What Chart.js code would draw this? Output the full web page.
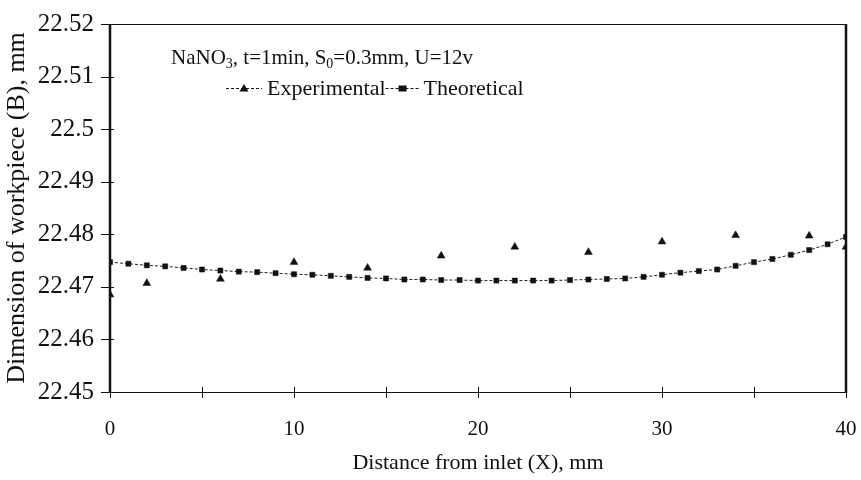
<!DOCTYPE html>
<html>
<head>
<meta charset="utf-8">
<script src="https://cdn.jsdelivr.net/npm/chart.js@4.4.1/dist/chart.umd.min.js"></script>
<style>
  html, body { margin: 0; padding: 0; background: #fff; }
  #wrap { width: 861px; height: 480px; position: relative; }
</style>
</head>
<body>
<div id="wrap"><canvas id="c" width="861" height="480"></canvas></div>
<script>
// ---- data ----
const expX = [0, 2, 6, 10, 14, 18, 22, 26, 30, 34, 38, 40];
const expY = [22.4685, 22.4707, 22.4715, 22.4747, 22.4736, 22.4759, 22.4776, 22.4766, 22.4786, 22.4798, 22.4797, 22.4776];

const theoX = [0,1,2,3,4,5,6,7,8,9,10,11,12,13,14,15,16,17,18,19,20,21,22,23,24,25,26,27,28,29,30,31,32,33,34,35,36,37,38,39,40];
const theoY = [22.4747, 22.4744, 22.4741, 22.4739, 22.4736, 22.4733, 22.4731, 22.4729, 22.4728, 22.4726,
               22.4724, 22.4723, 22.4721, 22.4719, 22.4717, 22.4716, 22.4714, 22.4714, 22.4713, 22.4713,
               22.4712, 22.4712, 22.4712, 22.4712, 22.4712, 22.4713, 22.4714, 22.4715, 22.4716, 22.4719,
               22.4723, 22.4727, 22.4730, 22.4733, 22.4740, 22.4747, 22.4753, 22.4761, 22.4770, 22.4781,
               22.4795];

const seriesNames = ['Experimental', 'Theoretical'];
const xTickLabels = ['0', '10', '20', '30', '40'];
const yTickLabels = ['22.45', '22.46', '22.47', '22.48', '22.49', '22.5', '22.51', '22.52'];
const xTitle = 'Distance from inlet (X), mm';
const yTitle = 'Dimension of workpiece (B), mm';
// annotation: [text, isSubscript]
const noteParts = [['NaNO', false], ['3', true], [', t=1min, S', false], ['0', true], ['=0.3mm, U=12v', false]];

const SERIF = '"Liberation Serif", "Times New Roman", serif';
const INK = '#111';

const toPts = (xs, ys) => xs.map((x, i) => ({ x: x, y: ys[i] }));

// ---- plugin: frame, crossing ticks, annotation, legend ----
const decor = {
  id: 'decor',
  afterDatasetsDraw(chart) {
    const ctx = chart.ctx;
    const a = chart.chartArea;
    const xs = chart.scales.x, ys = chart.scales.y;
    ctx.save();
    ctx.strokeStyle = INK;
    // top & bottom (thin)
    ctx.lineWidth = 1;
    ctx.beginPath();
    ctx.moveTo(a.left, a.top + 0.5); ctx.lineTo(a.right, a.top + 0.5);
    ctx.moveTo(a.left, a.bottom + 0.5); ctx.lineTo(a.right, a.bottom + 0.5);
    ctx.stroke();
    // left & right (thick)
    ctx.lineWidth = 2.5;
    ctx.beginPath();
    ctx.moveTo(a.left, a.top); ctx.lineTo(a.left, a.bottom + 1);
    ctx.moveTo(a.right, a.top); ctx.lineTo(a.right, a.bottom + 1);
    ctx.stroke();
    // y ticks
    ctx.lineWidth = 1;
    ctx.beginPath();
    ys.ticks.forEach(t => {
      const py = Math.round(ys.getPixelForValue(t.value)) + 0.5;
      ctx.moveTo(a.left - 9, py); ctx.lineTo(a.left + 4, py);
    });
    // x ticks
    xs.ticks.forEach(t => {
      const px = Math.round(xs.getPixelForValue(t.value)) + 0.5;
      ctx.moveTo(px, a.bottom - 5); ctx.lineTo(px, a.bottom + 6);
    });
    ctx.stroke();

    // annotation text with subscripts
    ctx.fillStyle = INK;
    ctx.textBaseline = 'alphabetic';
    ctx.textAlign = 'left';
    let x = a.left + 61;
    const base = a.top + 40;
    noteParts.forEach(([txt, sub]) => {
      ctx.font = (sub ? '14px ' : '21px ') + SERIF;
      ctx.fillText(txt, x, sub ? base + 4 : base);
      x += ctx.measureText(txt).width;
    });

    // legend
    const ly = a.top + 64;
    ctx.font = '22px ' + SERIF;
    ctx.textBaseline = 'middle';
    let lx = a.left + 116;
    // Experimental entry
    ctx.lineWidth = 1;
    ctx.setLineDash([3, 2]);
    ctx.beginPath(); ctx.moveTo(lx, ly + 0.5); ctx.lineTo(lx + 36, ly + 0.5); ctx.stroke();
    ctx.setLineDash([]);
    ctx.beginPath();
    ctx.moveTo(lx + 18, ly - 4); ctx.lineTo(lx + 22.5, ly + 3.5); ctx.lineTo(lx + 13.5, ly + 3.5); ctx.closePath();
    ctx.fill();
    lx += 41;
    ctx.fillText(seriesNames[0], lx, ly + 1);
    lx += ctx.measureText(seriesNames[0]).width;
    // Theoretical entry
    ctx.setLineDash([3, 2]);
    ctx.beginPath(); ctx.moveTo(lx, ly + 0.5); ctx.lineTo(lx + 34, ly + 0.5); ctx.stroke();
    ctx.setLineDash([]);
    ctx.fillRect(lx + 13, ly - 2.5, 8, 6);
    lx += 38;
    ctx.fillText(seriesNames[1], lx, ly + 1);
    ctx.restore();
  }
};

new Chart(document.getElementById('c'), {
  type: 'scatter',
  data: {
    datasets: [
      {
        label: seriesNames[0],
        data: toPts(expX, expY),
        showLine: false,
        pointStyle: 'triangle',
        pointRadius: 4.5,
        pointBackgroundColor: INK,
        pointBorderColor: INK,
        pointBorderWidth: 0.5
      },
      {
        label: seriesNames[1],
        data: toPts(theoX, theoY),
        showLine: true,
        borderColor: '#222',
        borderWidth: 1,
        borderDash: [3, 2],
        tension: 0,
        pointStyle: 'rect',
        pointRadius: 3.6,
        pointBackgroundColor: INK,
        pointBorderColor: INK,
        pointBorderWidth: 0.5
      }
    ]
  },
  options: {
    responsive: false,
    animation: false,
    devicePixelRatio: 1,
    layout: { padding: { top: 24, right: 15, left: 0, bottom: 0 } },
    plugins: {
      legend: { display: false },
      tooltip: { enabled: false }
    },
    scales: {
      x: {
        type: 'linear',
        min: 0, max: 40,
        afterFit(s) { s.height = 88; s.paddingLeft = 0; s.paddingRight = 0; },
        grid: { display: false, drawTicks: false },
        border: { display: false },
        ticks: {
          stepSize: 5,
          autoSkip: false,
          maxRotation: 0,
          padding: 25,
          color: INK,
          font: { family: SERIF, size: 21 },
          callback: (v) => {
            const s = String(Math.round(v));
            return xTickLabels.includes(s) ? s : '';
          }
        },
        title: {
          display: true,
          text: xTitle,
          color: INK,
          font: { family: SERIF, size: 22 },
          padding: { top: 0, bottom: 4 }
        }
      },
      y: {
        type: 'linear',
        min: 22.45, max: 22.52,
        afterFit(s) { s.width = 110; s.paddingTop = 0; s.paddingBottom = 0; },
        grid: { display: false, drawTicks: false },
        border: { display: false },
        ticks: {
          stepSize: 0.01,
          padding: 16,
          color: INK,
          font: { family: SERIF, size: 25 },
          callback: (v) => {
            const i = Math.round((v - 22.45) / 0.01);
            return yTickLabels[i] !== undefined ? yTickLabels[i] : '';
          }
        },
        title: {
          display: true,
          text: yTitle,
          color: INK,
          font: { family: SERIF, size: 26 },
          padding: { top: 2, bottom: 0 }
        }
      }
    }
  },
  plugins: [decor]
});
</script>
</body>
</html>
